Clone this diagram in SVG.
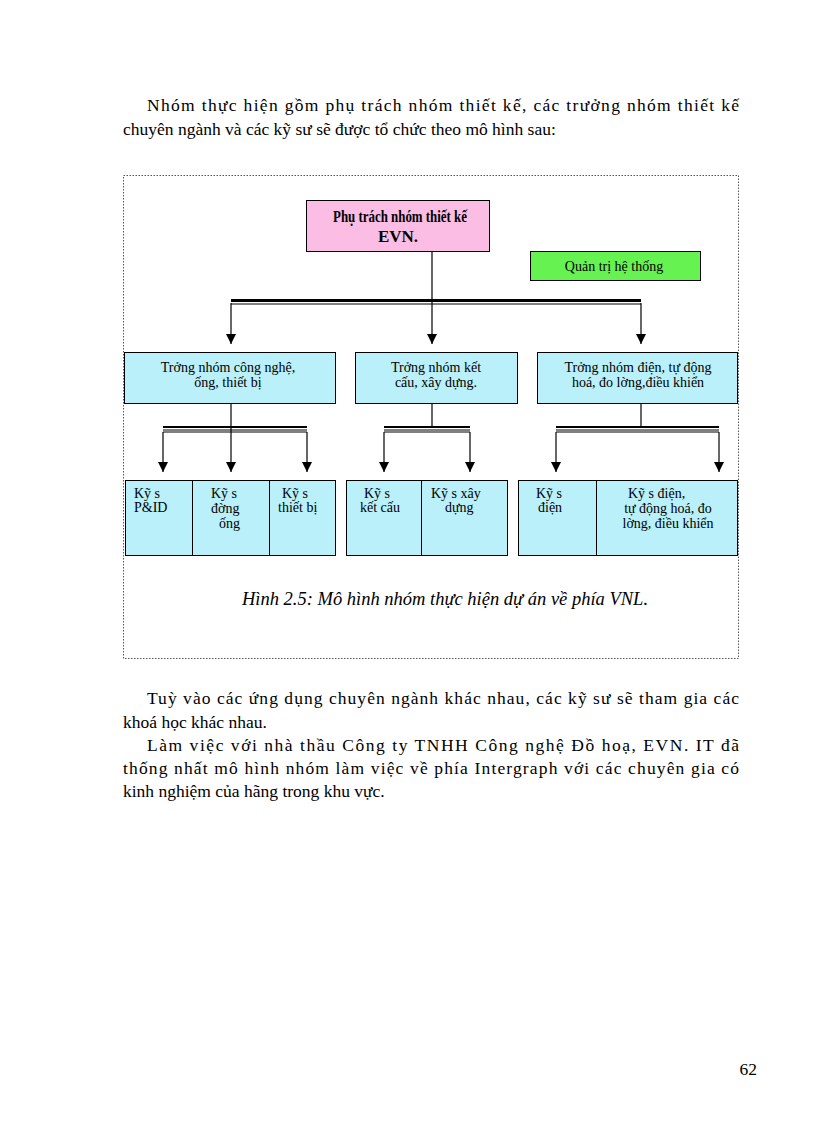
<svg xmlns="http://www.w3.org/2000/svg" width="816" height="1123" viewBox="0 0 816 1123" xml:space="preserve">
<style>
text{font-family:"Liberation Serif",serif;fill:#000}
.p{font-size:17.5px}
.n{font-size:14px}
.b{stroke:#000;stroke-width:1;fill:#b9f0fa}
.l{stroke:#000;stroke-width:1.2;fill:none}
.bar{stroke:#000;stroke-width:1;fill:none}
</style>
<defs>
<marker id="d" markerWidth="10" markerHeight="10" refX="5" refY="10" markerUnits="userSpaceOnUse" viewBox="0 0 10 10"><path d="M0,0 L10,0 L5,10z" fill="#000"/></marker></defs>
<rect width="816" height="1123" fill="#fff"/>
<text class="p" x="147" y="111" textLength="592" lengthAdjust="spacing">Nhóm thực hiện gồm phụ trách nhóm thiết kế, các trưởng nhóm thiết kế</text>
<text class="p" x="123" y="135">chuyên ngành và các kỹ sư sẽ được tổ chức theo mô hình sau:</text>
<rect x="123.5" y="175.5" width="615" height="483" fill="none" stroke="#555" stroke-dasharray="1.5,1.5"/>
<g id="connectors">
<line class="l" x1="432" y1="251" x2="432" y2="344" marker-end="url(#d)"/>
<rect x="231" y="299" width="410" height="3" fill="#000"/><line class="bar" x1="231" y1="304" x2="641" y2="304"/>
<line class="l" x1="231" y1="303" x2="231" y2="344" marker-end="url(#d)"/>
<line class="l" x1="641" y1="303" x2="641" y2="344" marker-end="url(#d)"/>
<rect x="163" y="426" width="144" height="2" fill="#000"/><line class="bar" x1="163" y1="430" x2="307" y2="430"/><line class="bar" x1="163" y1="432" x2="307" y2="432"/>
<line class="l" x1="231" y1="404" x2="231" y2="472" marker-end="url(#d)"/>
<line class="l" x1="163" y1="432" x2="163" y2="472" marker-end="url(#d)"/>
<line class="l" x1="307" y1="432" x2="307" y2="472" marker-end="url(#d)"/>
<rect x="384" y="426" width="86" height="2" fill="#000"/><line class="bar" x1="384" y1="430" x2="470" y2="430"/><line class="bar" x1="384" y1="432" x2="470" y2="432"/>
<line class="l" x1="432" y1="404" x2="432" y2="428"/>
<line class="l" x1="384" y1="432" x2="384" y2="472" marker-end="url(#d)"/>
<line class="l" x1="470" y1="432" x2="470" y2="472" marker-end="url(#d)"/>
<rect x="556" y="426" width="163" height="2" fill="#000"/><line class="bar" x1="556" y1="430" x2="719" y2="430"/><line class="bar" x1="556" y1="432" x2="719" y2="432"/>
<line class="l" x1="641" y1="404" x2="641" y2="428"/>
<line class="l" x1="556" y1="432" x2="556" y2="472" marker-end="url(#d)"/>
<line class="l" x1="719" y1="432" x2="719" y2="472" marker-end="url(#d)"/>
</g>
<g id="top"><rect x="306.5" y="200.5" width="183" height="51" fill="#fcbde4" stroke="#000"/>
<text x="333" y="222" font-size="17" font-weight="bold" textLength="134" lengthAdjust="spacingAndGlyphs">Phụ trách nhóm thiết kế</text>
<text x="398" y="242" text-anchor="middle" font-size="17" font-weight="bold">EVN.</text></g>
<g id="admin"><rect x="530.5" y="251.5" width="170" height="29" fill="#66f250" stroke="#000"/>
<text class="n" x="614" y="271" text-anchor="middle">Quản trị hệ thống</text></g>
<g id="lead1"><rect class="b" x="124.5" y="352.5" width="211" height="51"/>
<text class="n" x="228" y="372" text-anchor="middle">Trởng   nhóm công nghệ,</text><text class="n" x="228" y="387" text-anchor="middle">ống, thiết bị</text></g>
<g id="lead2"><rect class="b" x="355.5" y="352.5" width="162" height="51"/>
<text class="n" x="436" y="372" text-anchor="middle">Trởng   nhóm kết</text><text class="n" x="436" y="387" text-anchor="middle">cấu, xây dựng.</text></g>
<g id="lead3"><rect class="b" x="537.5" y="352.5" width="200" height="51"/>
<text class="n" x="638" y="372" text-anchor="middle">Trởng   nhóm điện, tự động</text><text class="n" x="638" y="387" text-anchor="middle">hoá, đo lờng,điều   khiển</text></g>
<g id="e1"><rect class="b" x="125.5" y="480.5" width="67" height="75"/><text class="n" x="134" y="498">Kỹ s</text><text class="n" x="134" y="512">P&amp;ID</text></g>
<g id="e2"><rect class="b" x="192.5" y="480.5" width="77" height="75"/><text class="n" x="211" y="498">Kỹ s</text><text class="n" x="211" y="513">đờng</text><text class="n" x="219" y="528">ống</text></g>
<g id="e3"><rect class="b" x="269.5" y="480.5" width="66" height="75"/><text class="n" x="282" y="498">Kỹ s</text><text class="n" x="278" y="512">thiết bị</text></g>
<g id="e4"><rect class="b" x="346.5" y="480.5" width="75" height="75"/><text class="n" x="364" y="498">Kỹ s</text><text class="n" x="360" y="512">kết cấu</text></g>
<g id="e5"><rect class="b" x="421.5" y="480.5" width="86" height="75"/><text class="n" x="431" y="498">Kỹ s   xây</text><text class="n" x="445" y="512">dựng</text></g>
<g id="e6"><rect class="b" x="518.5" y="480.5" width="78" height="75"/><text class="n" x="536" y="498">Kỹ s</text><text class="n" x="538" y="512">điện</text></g>
<g id="e7"><rect class="b" x="596.5" y="480.5" width="141" height="75"/><text class="n" x="628" y="498">Kỹ s   điện,</text><text class="n" x="668" y="513" text-anchor="middle">tự động hoá, đo</text><text class="n" x="668" y="528" text-anchor="middle">lờng,   điều khiển</text></g>
<text x="445" y="605" text-anchor="middle" font-size="18.5" font-style="italic" fill="#222">Hình 2.5: Mô hình nhóm thực hiện dự án về phía VNL.</text>
<text class="p" x="147" y="704" textLength="592" lengthAdjust="spacing">Tuỳ vào các ứng dụng chuyên ngành khác nhau, các kỹ sư sẽ tham gia các</text>
<text class="p" x="123" y="728">khoá học khác nhau.</text>
<text class="p" x="147" y="751" textLength="592" lengthAdjust="spacing">Làm việc với nhà thầu Công ty TNHH Công nghệ Đồ hoạ, EVN. IT đã</text>
<text class="p" x="123" y="774" textLength="616" lengthAdjust="spacing">thống nhất mô hình nhóm làm việc về phía Intergraph với các chuyên gia có</text>
<text class="p" x="123" y="797">kinh nghiệm của hãng trong khu vực.</text>
<text class="p" x="757" y="1075" text-anchor="end">62</text>
</svg>
